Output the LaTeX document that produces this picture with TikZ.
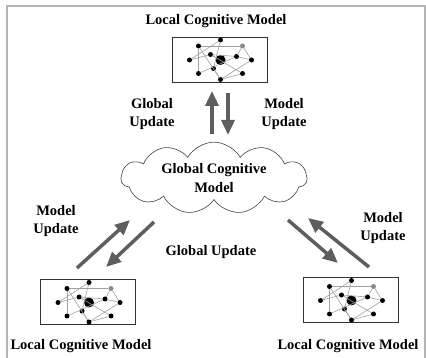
\documentclass[tikz,border=0pt]{standalone}
\usepackage{fontspec}
\setmainfont{Liberation Serif}
\usetikzlibrary{shapes.symbols,arrows.meta}
\definecolor{arrowgray}{HTML}{5E5E5E}
\definecolor{framegray}{HTML}{B4B4B4}
\definecolor{edgegray}{HTML}{A0A0A0}
\definecolor{dotgray}{HTML}{8A8A8A}
\begin{document}
\begin{tikzpicture}[x=1pt,y=-1pt,
  lbl/.style={font=\fontsize{14.5}{18.5}\selectfont\bfseries, align=center, inner sep=0pt},
  netbox/.style={draw=black!80, line width=0.8pt, minimum width=95pt, minimum height=45pt, inner sep=0pt},
  dot/.style={circle, fill=black, inner sep=0pt, minimum size=5pt},
  bigdot/.style={circle, fill=black, inner sep=0pt, minimum size=10pt},
  greydot/.style={circle, fill=dotgray, inner sep=0pt, minimum size=5pt},
  edge/.style={draw=edgegray, line width=0.6pt},
  bigarrow/.style={draw=arrowgray, line width=3.5pt, -{Triangle[length=15pt,width=13pt]}},
  net/.pic={
    \node[dot] (-a) at (-21,-13.5) {};
    \node[dot] (-b) at (1,-19.5) {};
    \node[greydot] (-c) at (23,-13.5) {};
    \node[dot] (-d) at (-30,0.5) {};
    \node[dot] (-e) at (-9,-5) {};
    \node[bigdot] (-f) at (1,0.5) {};
    \node[dot] (-g) at (17,-3) {};
    \node[dot] (-h) at (32,0.5) {};
    \node[dot] (-i) at (-21,14) {};
    \node[dot] (-j) at (-6,9) {};
    \node[dot] (-k) at (1,20) {};
    \node[dot] (-l) at (23,14) {};
    \foreach \p/\q in {b/d, b/j, a/c, a/i, d/e, e/g, e/l, c/g, g/h, h/k, g/i, j/k, k/l, a/k, e/f, c/h}
      \draw[edge] (-\p) -- (-\q);
  }]
\useasboundingbox (0,0) rectangle (426,358);
\draw[framegray, line width=1.2pt] (7,362) -- (7,6) -- (425,6) -- (425,362);

% boxes
\node[netbox] (topbox) at (219.5,59.5) {};
\pic (tn) at (219.5,59.5) {net};
\node[netbox] (leftbox) at (88,302) {};
\pic (ln) at (88,302) {net};
\node[netbox] (rightbox) at (350.5,300) {};
\pic (rn) at (350.5,300) {net};

% titles
\node[lbl] (toptitle) at (216,21) {Local Cognitive Model};
\node[lbl] (lefttitle) at (81,346) {Local Cognitive Model};
\node[lbl] (righttitle) at (348,346) {Local Cognitive Model};

% cloud
\node[cloud, draw=black!75, line width=0.6pt, cloud puffs=11, cloud puff arc=120, aspect=3,
      minimum width=186pt, minimum height=58pt, inner sep=0pt, lbl] (cloud) at (214,178)
      {Global Cognitive\\Model};

% arrows
\coordinate (tu0) at (212,134); \coordinate (tu1) at (212,91);
\coordinate (td0) at (228,93);  \coordinate (td1) at (228,135);
\coordinate (lu0) at (77,268);  \coordinate (lu1) at (130,220);
\coordinate (ld0) at (154,222); \coordinate (ld1) at (106,267);
\coordinate (rd0) at (288,220); \coordinate (rd1) at (338,263);
\coordinate (ru0) at (369,267); \coordinate (ru1) at (308,218);
\draw[bigarrow] (tu0) -- (tu1);
\draw[bigarrow] (td0) -- (td1);
\draw[bigarrow] (lu0) -- (lu1);
\draw[bigarrow] (ld0) -- (ld1);
\draw[bigarrow] (rd0) -- (rd1);
\draw[bigarrow] (ru0) -- (ru1);

% labels
\node[lbl] (gu1) at (152,114) {Global\\Update};
\node[lbl] (mu1) at (284,114) {Model\\Update};
\node[lbl] (mu2) at (56,221) {Model\\Update};
\node[lbl] (gu2) at (211,252) {Global Update};
\node[lbl] (mu3) at (383,228) {Model\\Update};
\end{tikzpicture}
\end{document}
